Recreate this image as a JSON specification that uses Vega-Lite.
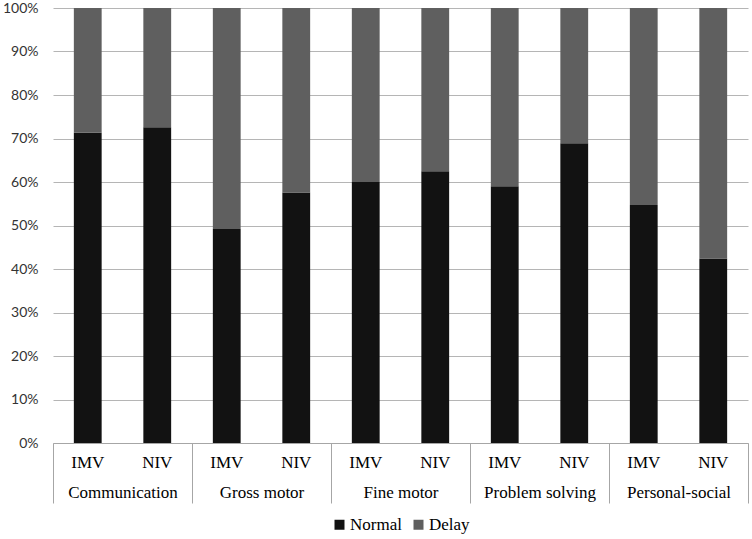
{
  "$schema": "https://vega.github.io/schema/vega-lite/v6.json",
  "width": 695,
  "height": 435,
  "autosize": {"type": "none"},
  "padding": {"left": 53, "top": 8, "right": 4, "bottom": 96},
  "background": "white",
  "config": {
    "view": {"stroke": null},
    "axis": {"labelColor": "#000000"},
    "legend": {"layout": {"bottom": {"anchor": "middle"}}}
  },
  "data": {
    "values": [
      {"key": "Communication|IMV", "domain": "Communication", "vent": "IMV", "status": "Normal", "ord": 1, "pct": 71.3},
      {"key": "Communication|IMV", "domain": "Communication", "vent": "IMV", "status": "Delay", "ord": 2, "pct": 28.7},
      {"key": "Communication|NIV", "domain": "Communication", "vent": "NIV", "status": "Normal", "ord": 1, "pct": 72.6},
      {"key": "Communication|NIV", "domain": "Communication", "vent": "NIV", "status": "Delay", "ord": 2, "pct": 27.4},
      {"key": "Gross motor|IMV", "domain": "Gross motor", "vent": "IMV", "status": "Normal", "ord": 1, "pct": 49.2},
      {"key": "Gross motor|IMV", "domain": "Gross motor", "vent": "IMV", "status": "Delay", "ord": 2, "pct": 50.8},
      {"key": "Gross motor|NIV", "domain": "Gross motor", "vent": "NIV", "status": "Normal", "ord": 1, "pct": 57.6},
      {"key": "Gross motor|NIV", "domain": "Gross motor", "vent": "NIV", "status": "Delay", "ord": 2, "pct": 42.4},
      {"key": "Fine motor|IMV", "domain": "Fine motor", "vent": "IMV", "status": "Normal", "ord": 1, "pct": 60.0},
      {"key": "Fine motor|IMV", "domain": "Fine motor", "vent": "IMV", "status": "Delay", "ord": 2, "pct": 40.0},
      {"key": "Fine motor|NIV", "domain": "Fine motor", "vent": "NIV", "status": "Normal", "ord": 1, "pct": 62.5},
      {"key": "Fine motor|NIV", "domain": "Fine motor", "vent": "NIV", "status": "Delay", "ord": 2, "pct": 37.5},
      {"key": "Problem solving|IMV", "domain": "Problem solving", "vent": "IMV", "status": "Normal", "ord": 1, "pct": 59.0},
      {"key": "Problem solving|IMV", "domain": "Problem solving", "vent": "IMV", "status": "Delay", "ord": 2, "pct": 41.0},
      {"key": "Problem solving|NIV", "domain": "Problem solving", "vent": "NIV", "status": "Normal", "ord": 1, "pct": 68.9},
      {"key": "Problem solving|NIV", "domain": "Problem solving", "vent": "NIV", "status": "Delay", "ord": 2, "pct": 31.1},
      {"key": "Personal-social|IMV", "domain": "Personal-social", "vent": "IMV", "status": "Normal", "ord": 1, "pct": 54.7},
      {"key": "Personal-social|IMV", "domain": "Personal-social", "vent": "IMV", "status": "Delay", "ord": 2, "pct": 45.3},
      {"key": "Personal-social|NIV", "domain": "Personal-social", "vent": "NIV", "status": "Normal", "ord": 1, "pct": 42.4},
      {"key": "Personal-social|NIV", "domain": "Personal-social", "vent": "NIV", "status": "Delay", "ord": 2, "pct": 57.6}
    ]
  },
  "layer": [
    {
      "mark": {"type": "bar"},
      "encoding": {
        "x": {
          "field": "key",
          "type": "nominal",
          "sort": null,
          "scale": {"paddingInner": 0.6, "paddingOuter": 0.3},
          "axis": {
            "orient": "bottom",
            "title": null,
            "labelAngle": 0,
            "labelExpr": "split(datum.label, '|')[1]",
            "labelFont": "'Liberation Serif', 'Times New Roman', serif",
            "labelFontSize": 17,
            "labelPadding": 11,
            "ticks": false,
            "domainColor": "#a6a6a6",
            "domainWidth": 1,
            "grid": false
          }
        },
        "y": {
          "field": "pct",
          "type": "quantitative",
          "stack": "normalize",
          "axis": {
            "title": null,
            "format": ".0%",
            "values": [0, 0.1, 0.2, 0.3, 0.4, 0.5, 0.6, 0.7, 0.8, 0.9, 1],
            "labelFont": "Lato",
            "labelFontSize": 14,
            "labelColor": "#333333",
            "labelPadding": 15,
            "ticks": false,
            "domain": false,
            "grid": true,
            "gridColor": "#b5b5b5",
            "gridWidth": 1.2
          }
        },
        "color": {
          "field": "status",
          "type": "nominal",
          "scale": {"domain": ["Normal", "Delay"], "range": ["#121212", "#5f5f5f"]},
          "legend": {
            "orient": "bottom",
            "direction": "horizontal",
            "title": null,
            "symbolType": "square",
            "symbolSize": 100,
            "symbolStrokeWidth": 0,
            "labelFont": "'Liberation Serif', 'Times New Roman', serif",
            "labelFontSize": 17,
            "labelColor": "#000000",
            "labelOffset": 2,
            "columnPadding": 8,
            "offset": 12
          }
        },
        "order": {"field": "ord", "type": "quantitative"}
      }
    },
    {
      "mark": {"type": "rule", "opacity": 0},
      "encoding": {
        "x": {
          "field": "domain",
          "type": "nominal",
          "sort": null,
          "scale": {"paddingInner": 0, "paddingOuter": 0},
          "axis": {
            "orient": "bottom",
            "title": null,
            "labelAngle": 0,
            "labelFont": "'Liberation Serif', 'Times New Roman', serif",
            "labelFontSize": 17,
            "domain": false,
            "ticks": true,
            "tickBand": "extent",
            "tickSize": 60,
            "tickColor": "#a6a6a6",
            "tickWidth": 1,
            "labelPadding": -19,
            "grid": false
          }
        }
      }
    }
  ],
  "resolve": {"scale": {"x": "independent"}, "axis": {"x": "independent"}}
}
